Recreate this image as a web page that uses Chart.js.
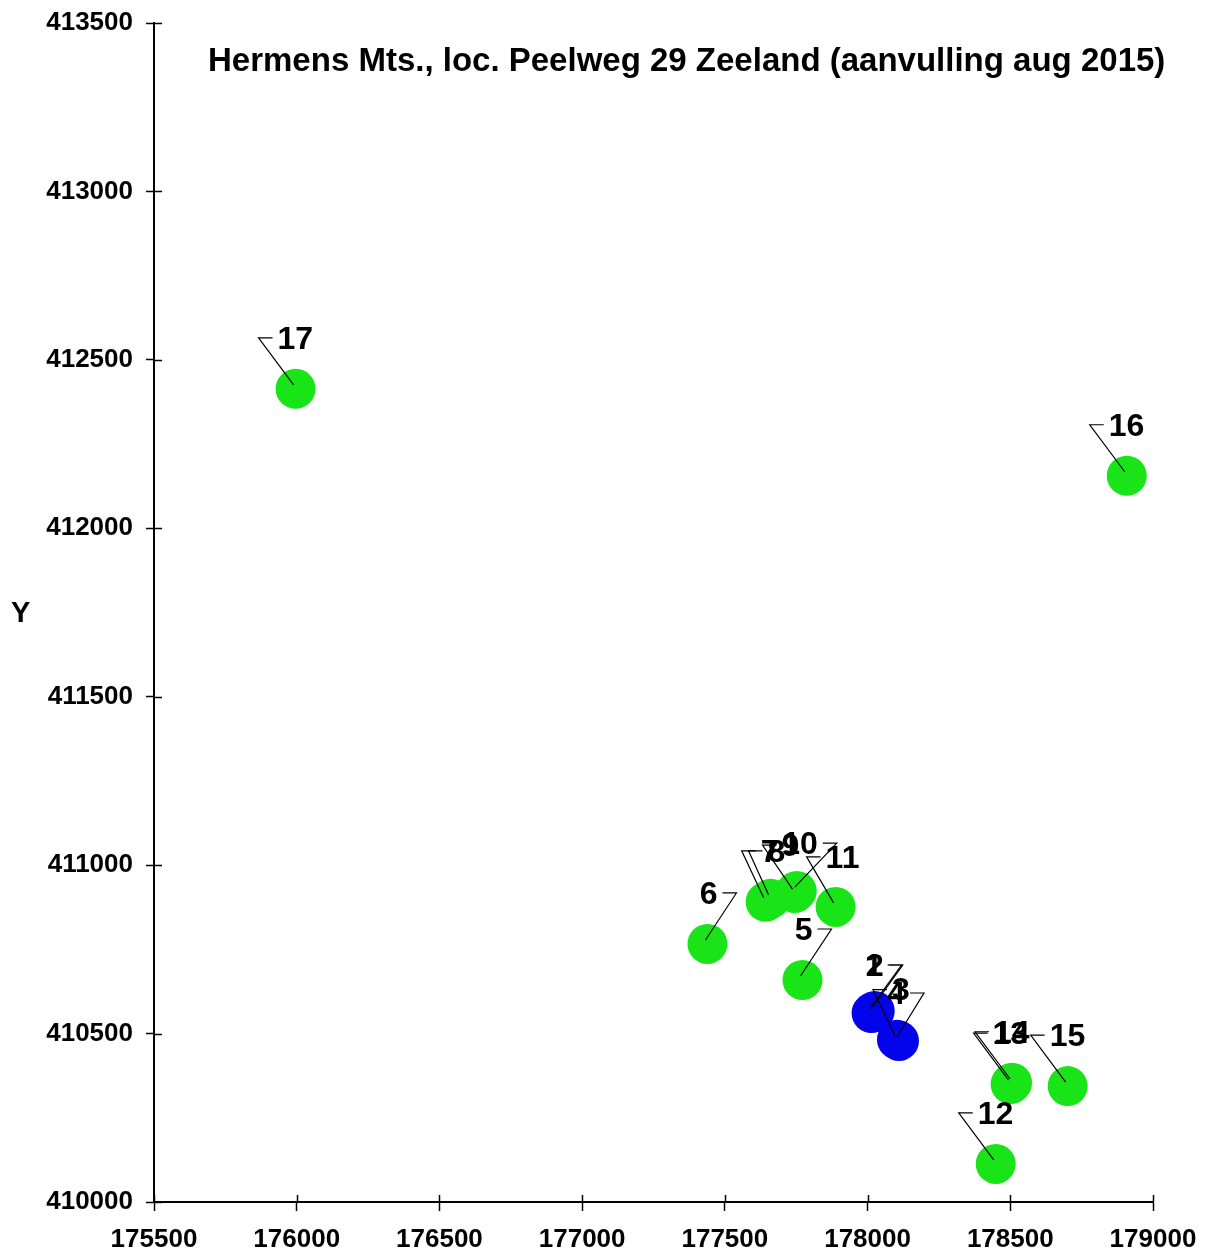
<!DOCTYPE html>
<html>
<head>
<meta charset="utf-8">
<title>Hermens Mts., loc. Peelweg 29 Zeeland</title>
<script src="https://cdn.jsdelivr.net/npm/chart.js@4.4.0/dist/chart.umd.min.js"></script>
<style>
  body { margin: 0; background: #fff; }
</style>
</head>
<body>
<canvas id="myChart" width="1207" height="1258"></canvas>
<script>
'use strict';

// measuring points (RD coordinates)
let pointNames = ['1', '2', '3', '4', '5', '6', '7', '8', '9', '10', '11', '12', '13', '14', '15', '16', '17'];
let xValues = [178014, 178025, 178103, 178110, 177772, 177439, 177643, 177660, 177744, 177752, 177888, 178449, 178501, 178506, 178701, 178908, 175996];
let yValues = [410561, 410567, 410482, 410478, 410659, 410766, 410891, 410900, 410917, 410923, 410876, 410113, 410350, 410354, 410344, 412156, 412414];
// points 1 t/m 4 in blue, the rest in green
let bluePoints = ['1', '2', '3', '4'];

let xTicks = [175500, 176000, 176500, 177000, 177500, 178000, 178500, 179000];
let yTicks = [410000, 410500, 411000, 411500, 412000, 412500, 413000, 413500];

let chartTitle = 'Hermens Mts., loc. Peelweg 29 Zeeland (aanvulling aug 2015)';
let yTitle = 'Y';

// where each label's elbow sits, relative to its point (px), and which side the text goes
let labelSpots = {
  '1': [30, -48, 'left'],
  '2': [28, -46, 'left'],
  '3': [-24, -50, 'right'],
  '4': [25, -48, 'left'],
  '5': [29, -51, 'left'],
  '6': [29, -51, 'left'],
  '7': [-24, -51, 'right'],
  '8': [-22, -48, 'right'],
  '9': [-32, -48, 'right'],
  '10': [40, -48, 'left'],
  '11': [-29, -50, 'right']
};
let defaultSpot = [-37, -51, 'right'];

let bluePts = [];
let greenPts = [];
for (let i = 0; i < pointNames.length; i++) {
  let p = { x: xValues[i], y: yValues[i], name: pointNames[i] };
  if (bluePoints.includes(pointNames[i])) {
    bluePts.push(p);
  } else {
    greenPts.push(p);
  }
}

const labelFont = 'bold 32px "Liberation Sans", Arial, sans-serif';
const tickFont = { family: '"Liberation Sans", Arial, sans-serif', size: 26, weight: 'bold' };

// leader lines + point numbers
const pointLabels = {
  id: 'pointLabels',
  afterDatasetsDraw(chart) {
    const ctx = chart.ctx;
    ctx.save();
    ctx.strokeStyle = '#000';
    ctx.lineWidth = 1.2;
    ctx.fillStyle = '#000';
    ctx.font = labelFont;
    ctx.textBaseline = 'middle';
    chart.data.datasets.forEach((ds, di) => {
      let meta = chart.getDatasetMeta(di);
      meta.data.forEach((el, j) => {
        let name = ds.data[j].name;
        let spot = labelSpots[name] || defaultSpot;
        let cx = el.x + spot[0];
        let cy = el.y + spot[1];
        let dir = spot[2] === 'right' ? 1 : -1;
        ctx.beginPath();
        ctx.moveTo(el.x - 2, el.y - 4);
        ctx.lineTo(cx, cy);
        ctx.lineTo(cx + dir * 14, cy);
        ctx.stroke();
        ctx.textAlign = dir === 1 ? 'left' : 'right';
        ctx.fillText(name, cx + dir * 19, cy + 2);
      });
    });
    ctx.restore();
  }
};

// title, axis name and the inner half of the tick marks
const extras = {
  id: 'extras',
  afterDraw(chart) {
    const ctx = chart.ctx;
    const area = chart.chartArea;
    ctx.save();
    ctx.fillStyle = '#000';
    ctx.textBaseline = 'middle';
    ctx.textAlign = 'left';
    ctx.font = 'bold 33px "Liberation Sans", Arial, sans-serif';
    ctx.fillText(chartTitle, 208, 62);
    ctx.font = 'bold 29px "Liberation Sans", Arial, sans-serif';
    ctx.fillText(yTitle, 11, 614);

    ctx.strokeStyle = '#000';
    ctx.lineWidth = 1.5;
    ctx.beginPath();
    chart.scales.y.ticks.forEach((t) => {
      let py = Math.round(chart.scales.y.getPixelForValue(t.value)) + 0.5;
      ctx.moveTo(area.left, py);
      ctx.lineTo(area.left + 8, py);
    });
    chart.scales.x.ticks.forEach((t) => {
      let px = Math.round(chart.scales.x.getPixelForValue(t.value)) + 0.5;
      ctx.moveTo(px, area.bottom);
      ctx.lineTo(px, area.bottom - 7);
    });
    ctx.stroke();
    ctx.restore();
  }
};

const ctx = document.getElementById('myChart');

new Chart(ctx, {
  type: 'scatter',
  data: {
    datasets: [
      {
        label: 'groen',
        data: greenPts,
        backgroundColor: '#18e418',
        borderWidth: 0,
        pointRadius: 20
      },
      {
        label: 'blauw',
        data: bluePts,
        backgroundColor: '#0303ec',
        borderWidth: 0,
        pointRadius: 20
      }
    ]
  },
  options: {
    responsive: false,
    animation: false,
    events: [],
    layout: {
      padding: { top: 23, right: 54, left: 0, bottom: 0 }
    },
    plugins: {
      legend: { display: false },
      tooltip: { enabled: false }
    },
    scales: {
      x: {
        type: 'linear',
        min: xTicks[0],
        max: xTicks[xTicks.length - 1],
        afterBuildTicks: (axis) => { axis.ticks = xTicks.map(v => ({ value: v })); },
        afterFit: (axis) => {
          axis.height = 56;
          axis.paddingLeft = 0;
          axis.paddingRight = 0;
        },
        ticks: {
          color: '#000',
          font: tickFont,
          padding: 13,
          maxRotation: 0,
          callback: (v) => String(v)
        },
        grid: {
          drawOnChartArea: false,
          drawTicks: true,
          tickLength: 9,
          tickWidth: 1.5,
          tickColor: '#000'
        },
        border: { color: '#000', width: 2 }
      },
      y: {
        type: 'linear',
        min: yTicks[0],
        max: yTicks[yTicks.length - 1],
        afterBuildTicks: (axis) => { axis.ticks = yTicks.map(v => ({ value: v })); },
        afterFit: (axis) => {
          axis.width = 154;
          axis.paddingTop = 0;
          axis.paddingBottom = 0;
        },
        ticks: {
          color: '#000',
          font: tickFont,
          padding: 13,
          callback: (v) => String(v)
        },
        grid: {
          drawOnChartArea: false,
          drawTicks: true,
          tickLength: 8,
          tickWidth: 1.5,
          tickColor: '#000'
        },
        border: { color: '#000', width: 2 }
      }
    }
  },
  plugins: [pointLabels, extras]
});
</script>
</body>
</html>
